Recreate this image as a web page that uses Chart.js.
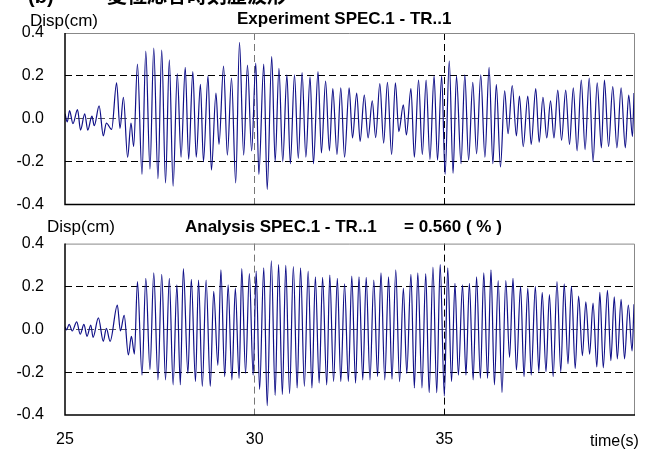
<!DOCTYPE html>
<html>
<head>
<meta charset="utf-8">
<script src="https://cdn.jsdelivr.net/npm/chart.js@4"></script>
<style>
  body { margin: 0; background: #fff; width: 661px; height: 452px; overflow: hidden; position: relative; }
  #expChart { position: absolute; left: 0; top: 0; }
  #anaChart { position: absolute; left: 0; top: 213px; }
</style>
</head>
<body>
<canvas id="expChart" width="661" height="235"></canvas>
<canvas id="anaChart" width="661" height="239"></canvas>
<script>
// Experiment: time (s) of each peak / trough and displacement (cm)
const expTime = [25.00,25.06,25.12,25.21,25.33,25.41,25.52,25.60,25.71,25.77,25.90,26.01,26.09,26.23,26.36,26.45,26.54,26.65,26.74,26.81,
  26.91,27.03,27.13,27.24,27.34,27.45,27.55,27.65,27.75,27.85,27.96,28.06,28.17,28.26,28.37,28.46,28.57,28.65,28.77,28.86,
  28.98,29.06,29.18,29.28,29.39,29.50,29.60,29.71,29.81,29.92,30.03,
  30.11,30.24,30.33,30.45,30.54,30.64,30.74,30.85,30.94,31.05,31.15,31.25,31.35,31.46,31.55,31.67,31.76,31.87,31.97,32.06,
  32.17,32.27,32.37,32.49,32.58,32.69,32.78,32.89,32.99,33.10,33.19,33.30,33.40,33.50,33.61,33.71,33.80,33.92,34.00,34.12,
  34.21,34.32,34.42,34.52,34.62,34.73,34.82,34.93,35.02,35.13,
  35.23,35.32,35.44,35.54,35.64,35.75,35.85,35.96,36.07,36.18,36.28,36.37,36.48,36.59,36.68,36.79,36.90,36.98,37.08,37.20,
  37.29,37.41,37.50,37.60,37.70,37.80,37.89,37.99,38.09,38.20,38.30,38.40,38.50,38.61,38.71,38.82,38.92,39.03,39.14,39.22,
  39.33,39.44,39.55,39.66,39.77,39.86,39.96,40.00];
const expDisp = [0.023,-0.015,0.038,-0.023,0.042,-0.053,0.023,-0.053,0.012,-0.033,0.06,-0.08,-0.02,-0.05,0.167,-0.045,0.10,-0.18,-0.02,-0.13,
  0.255,-0.26,0.315,-0.235,0.33,-0.28,0.32,-0.30,0.275,-0.315,0.21,-0.18,0.24,-0.19,0.22,-0.18,0.16,-0.20,0.20,-0.24,
  0.12,-0.12,0.245,-0.17,0.19,-0.30,0.356,-0.17,0.25,-0.15,0.26,
  -0.26,0.255,-0.33,0.29,-0.20,0.235,-0.20,0.205,-0.21,0.205,-0.185,0.215,-0.18,0.195,-0.21,0.22,-0.16,0.175,-0.15,0.14,
  -0.167,0.144,-0.18,0.144,-0.09,0.12,-0.106,0.11,-0.09,0.083,-0.088,0.164,-0.114,0.17,-0.167,0.167,-0.06,0.065,-0.076,0.14,
  -0.18,0.18,-0.167,0.18,-0.19,0.20,-0.194,0.20,-0.26,0.27,
  -0.255,0.2,-0.21,0.205,-0.194,0.17,-0.164,0.205,-0.18,0.24,-0.21,0.16,-0.225,0.13,-0.07,0.155,-0.08,0.106,-0.13,0.106,
  -0.12,0.14,-0.11,0.1,-0.09,0.083,-0.09,0.133,-0.1,0.133,-0.12,0.144,-0.15,0.18,-0.144,0.19,-0.2,0.167,-0.136,0.18,
  -0.13,0.15,-0.136,0.144,-0.136,0.11,-0.083,0.12];

// Analysis
const anaTime = [25.00,25.04,25.11,25.19,25.31,25.40,25.50,25.58,25.68,25.74,25.88,26.01,26.09,26.19,26.38,26.46,26.56,26.67,26.75,26.83,
  26.91,27.03,27.13,27.24,27.34,27.45,27.55,27.65,27.75,27.85,27.95,28.04,28.12,28.24,28.33,28.44,28.52,28.62,28.72,28.83,
  28.92,29.03,29.11,29.21,29.30,29.40,29.49,29.59,29.66,29.76,29.86,29.96,30.04,
  30.13,30.24,30.33,30.44,30.54,30.63,30.73,30.82,30.92,31.02,31.12,31.21,31.31,31.41,31.51,31.60,31.70,31.79,31.90,31.98,
  32.08,32.18,32.27,32.37,32.47,32.56,32.66,32.75,32.85,32.94,33.04,33.14,33.24,33.33,33.43,33.53,33.62,33.72,33.82,33.92,
  34.01,34.12,34.21,34.30,34.41,34.51,34.60,34.70,34.80,34.89,35.00,
  35.09,35.19,35.28,35.37,35.48,35.57,35.66,35.76,35.85,35.95,36.04,36.14,36.23,36.32,36.42,36.52,36.62,36.72,36.81,36.90,
  37.01,37.10,37.20,37.29,37.40,37.49,37.58,37.68,37.77,37.87,37.97,38.07,38.16,38.26,38.35,38.45,38.54,38.64,38.73,38.83,
  38.92,39.02,39.10,39.19,39.30,39.39,39.48,39.56,39.66,39.75,39.85,39.95,40.00];
const anaDisp = [0.012,-0.003,0.023,-0.008,0.035,-0.023,0.023,-0.033,0.02,-0.038,0.053,-0.056,0.005,-0.056,0.113,-0.008,0.065,-0.12,-0.033,-0.116,
  0.223,-0.214,0.238,-0.188,0.263,-0.236,0.257,-0.236,0.238,-0.259,0.208,-0.259,0.283,-0.206,0.233,-0.244,0.23,-0.266,0.23,-0.266,
  0.177,-0.168,0.278,-0.221,0.208,-0.236,0.192,-0.229,0.283,-0.206,0.26,-0.214,0.272,
  -0.281,0.287,-0.356,0.32,-0.308,0.302,-0.304,0.298,-0.3,0.293,-0.274,0.287,-0.266,0.272,-0.274,0.245,-0.251,0.242,-0.259,0.253,
  -0.244,0.238,-0.244,0.212,-0.244,0.248,-0.251,0.245,-0.236,0.242,-0.236,0.23,-0.221,0.263,-0.236,0.245,-0.233,0.278,-0.244,0.192,
  -0.206,0.257,-0.274,0.263,-0.274,0.26,-0.296,0.29,-0.296,0.302,-0.311,
  0.287,-0.244,0.215,-0.214,0.208,-0.214,0.215,-0.236,0.245,-0.229,0.263,-0.229,0.278,-0.259,0.227,-0.296,0.227,-0.131,0.238,-0.191,
  0.2,-0.221,0.192,-0.214,0.2,-0.198,0.173,-0.198,0.162,-0.221,0.223,-0.198,0.212,-0.161,0.2,-0.183,0.155,-0.123,0.128,-0.116,
  0.122,-0.176,0.173,-0.18,0.182,-0.146,0.152,-0.138,0.14,-0.138,0.113,-0.101,0.117];

const yTicks = [-0.4, -0.2, 0, 0.2, 0.4];
const xTicks = [25, 30, 35];

const FONT = "'Liberation Sans', Arial, sans-serif";
const lineColor = '#101088';

// frame (black left/bottom, grey top/right) + free texts
const frameText = {
  id: 'frameText',
  afterDraw(chart, args, opts) {
    const { ctx, chartArea: a } = chart;
    ctx.save();
    ctx.strokeStyle = '#888';
    ctx.lineWidth = 1;
    ctx.beginPath();
    ctx.moveTo(a.left, a.top + 0.5);
    ctx.lineTo(a.right + 0.5, a.top + 0.5);
    ctx.lineTo(a.right + 0.5, a.bottom);
    ctx.stroke();
    ctx.strokeStyle = '#000';
    ctx.lineWidth = 1.5;
    ctx.beginPath();
    ctx.moveTo(a.left, a.top);
    ctx.lineTo(a.left, a.bottom);
    ctx.lineTo(a.right + 1, a.bottom);
    ctx.stroke();
    ctx.fillStyle = '#000';
    ctx.textAlign = 'left';
    ctx.textBaseline = 'alphabetic';
    (opts.texts || []).forEach(t => {
      ctx.font = t.font;
      ctx.fillText(t.text, t.x, t.y);
    });
    ctx.restore();
  }
};

function makeOptions(pad, xHeight, showX, texts) {
  return {
    responsive: false,
    animation: false,
    layout: { padding: pad },
    plugins: { legend: { display: false }, tooltip: { enabled: false }, frameText: { texts: texts } },
    scales: {
      x: {
        type: 'linear', min: 25, max: 40,
        afterBuildTicks: s => { s.ticks = [25, 30, 35, 40].map(v => ({ value: v })); },
        afterFit: s => { s.height = xHeight; },
        border: { display: false, dash: [7, 4] },
        grid: {
          drawTicks: false, lineWidth: 1,
          color: c => c.tick.value === 30 ? '#777' : (c.tick.value === 35 ? '#000' : 'rgba(0,0,0,0)')
        },
        ticks: {
          display: showX, padding: 15, color: '#000', maxRotation: 0,
          font: { family: FONT, size: 16 },
          callback: v => xTicks.includes(v) ? String(v) : ''
        }
      },
      y: {
        min: -0.4, max: 0.4,
        afterBuildTicks: s => { s.ticks = yTicks.map(v => ({ value: v })); },
        afterFit: s => { s.width = 65; },
        border: { display: false, dash: [7, 4] },
        grid: {
          drawTicks: false, lineWidth: 1,
          color: c => Math.abs(c.tick.value) > 0.3 ? 'rgba(0,0,0,0)' : (Math.abs(c.tick.value) < 0.01 ? '#555' : '#000')
        },
        ticks: {
          padding: 21, color: '#000',
          font: { family: FONT, size: 16 },
          callback: v => (Math.abs(v) < 1e-9 ? 0 : v).toFixed(1)
        }
      }
    }
  };
}

function makeData(t, d) {
  return {
    datasets: [{
      data: t.map((x, i) => ({ x: x, y: d[i] })),
      borderColor: lineColor,
      borderWidth: 1.2,
      pointRadius: 0,
      cubicInterpolationMode: 'monotone',
      fill: false
    }]
  };
}

new Chart(document.getElementById('expChart'), {
  type: 'line',
  data: makeData(expTime, expDisp),
  options: makeOptions({ top: 33, right: 27, bottom: 0, left: 0 }, 0, false, [
    { text: '(b)', x: 28, y: 3, font: `bold 20px ${FONT}` },
    { text: '変位応答時刻歴波形', x: 107, y: 3, font: "bold 20px 'Noto Sans CJK JP'" },
    { text: 'Disp(cm)', x: 30, y: 26, font: `17px ${FONT}` },
    { text: 'Experiment SPEC.1 - TR..1', x: 237, y: 24, font: `bold 17px ${FONT}` }
  ]),
  plugins: [frameText]
});

new Chart(document.getElementById('anaChart'), {
  type: 'line',
  data: makeData(anaTime, anaDisp),
  options: makeOptions({ top: 27, right: 27, bottom: 0, left: 0 }, 37, true, [
    { text: 'Disp(cm)', x: 47, y: 19, font: `17px ${FONT}` },
    { text: 'Analysis SPEC.1 - TR..1', x: 185, y: 19, font: `bold 17px ${FONT}` },
    { text: '= 0.560 ( % )', x: 404, y: 19, font: `bold 17px ${FONT}` },
    { text: 'time(s)', x: 590, y: 233, font: `16px ${FONT}` }
  ]),
  plugins: [frameText]
});
</script>
</body>
</html>
